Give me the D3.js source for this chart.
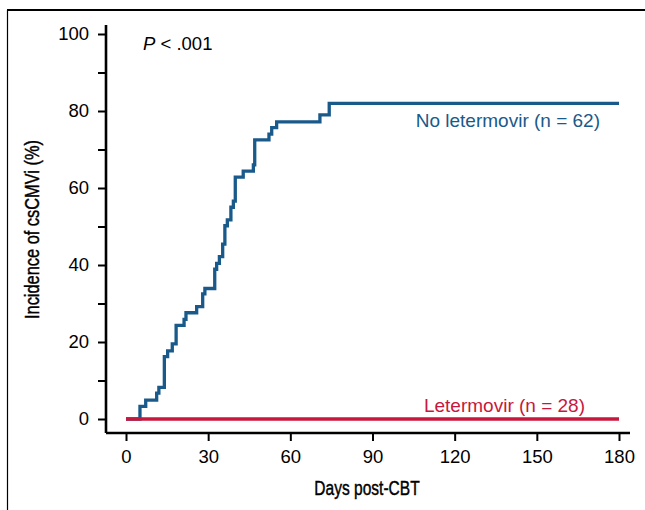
<!DOCTYPE html>
<html>
<head>
<meta charset="utf-8">
<script src="https://cdn.jsdelivr.net/npm/d3@7"></script>
<style>
  body { margin: 0; background: #fff; }
  text { font-family: "Liberation Sans", Arial, sans-serif; }
</style>
</head>
<body>
<div id="chart"></div>
<script>
//
// Data
//
var noLetDays = [0, 5.1, 7.2, 11.2, 12.0, 14.0, 15.2, 16.9, 18.3, 21.2, 21.9, 25.8, 28.0, 28.8,
                 32.4, 33.1, 34.1, 35.3, 36.1, 37.0, 38.3, 39.2, 39.9, 42.8, 46.5, 47.0,
                 52.2, 53.2, 55.0, 70.8, 74.2, 180];
var noLetInc  = [0, 3.3, 4.9, 6.7, 8.2, 16.2, 17.7, 19.5, 24.3, 25.9, 27.6, 29.2, 32.5, 33.9,
                 38.9, 40.4, 42.2, 45.4, 50.2, 51.7, 55.0, 56.6, 62.8, 64.4, 66.0, 72.5,
                 74.0, 75.7, 77.2, 79.0, 82.0, 82.0];
var letDays = [0, 180];
var letInc  = [0, 0];
var xTicks = [0, 30, 60, 90, 120, 150, 180];
var yTicks = [0, 10, 20, 30, 40, 50, 60, 70, 80, 90, 100];
var yLabels = [0, 20, 40, 60, 80, 100];

var blue = "#1a5a8a",
    red  = "#c8173c";

var width = 645, height = 510;

var svg = d3.select("#chart").append("svg")
    .attr("width", width)
    .attr("height", height);

// frame (top + left)
svg.append("line").attr("x1", 7).attr("x2", width).attr("y1", 10).attr("y2", 10)
    .attr("stroke", "#000").attr("stroke-width", 2);
svg.append("line").attr("x1", 7.5).attr("x2", 7.5).attr("y1", 10).attr("y2", height)
    .attr("stroke", "#000").attr("stroke-width", 1.2);

var x = d3.scaleLinear().domain([0, 180]).range([126, 619]);
var y = d3.scaleLinear().domain([0, 100]).range([419, 34]);

// axes
var xAxis = svg.append("g")
    .attr("transform", "translate(0,433)")
    .call(d3.axisBottom(x).tickValues(xTicks).tickSize(8).tickPadding(5).tickSizeOuter(0));
xAxis.select(".domain").attr("d", "M106,0H630");

var yAxis = svg.append("g")
    .attr("transform", "translate(106,0)")
    .call(d3.axisLeft(y).tickValues(yTicks).tickSize(8).tickPadding(9)
        .tickFormat(function(d) { return yLabels.indexOf(d) >= 0 ? d : ""; }));
yAxis.select(".domain").attr("d", "M0,25V433");

svg.selectAll(".domain").attr("stroke", "#000").attr("stroke-width", 2.6);
svg.selectAll(".tick line").attr("stroke", "#000").attr("stroke-width", 2);
svg.selectAll(".tick text")
    .style("font-family", "'Liberation Sans', Arial, sans-serif")
    .style("font-size", "18.5px")
    .attr("fill", "#000");
xAxis.selectAll(".tick text").attr("y", 30).attr("dy", null);

// axis titles (condensed look)
svg.append("text")
    .attr("transform", "translate(367,495) scale(0.74,1)")
    .attr("text-anchor", "middle")
    .style("font-size", "21px")
    .attr("stroke", "#000").attr("stroke-width", 0.45)
    .text("Days post-CBT");

svg.append("text")
    .attr("transform", "translate(39,229.5) rotate(-90) scale(0.78,1)")
    .attr("text-anchor", "middle")
    .style("font-size", "21px")
    .attr("stroke", "#000").attr("stroke-width", 0.45)
    .text("Incidence of csCMVi (%)");

// curves
var line = d3.line()
    .x(function(d) { return x(d[0]); })
    .y(function(d) { return y(d[1]); })
    .curve(d3.curveStepAfter);

svg.append("path")
    .datum(d3.zip(noLetDays, noLetInc))
    .attr("d", line)
    .attr("fill", "none")
    .attr("stroke", blue)
    .attr("stroke-width", 3.3);

svg.append("path")
    .datum(d3.zip(letDays, letInc))
    .attr("d", line)
    .attr("fill", "none")
    .attr("stroke", red)
    .attr("stroke-width", 3.3);

// labels
svg.append("text")
    .attr("x", 600).attr("y", 127)
    .attr("text-anchor", "end")
    .attr("fill", blue)
    .style("font-size", "19px")
    .text("No letermovir (n = 62)");

svg.append("text")
    .attr("x", 585).attr("y", 412)
    .attr("text-anchor", "end")
    .attr("fill", red)
    .style("font-size", "19px")
    .text("Letermovir (n = 28)");

var pt = svg.append("text")
    .attr("x", 143).attr("y", 50)
    .style("font-size", "18.5px");
pt.append("tspan").style("font-style", "italic").text("P");
pt.append("tspan").text(" < .001");
</script>
</body>
</html>
